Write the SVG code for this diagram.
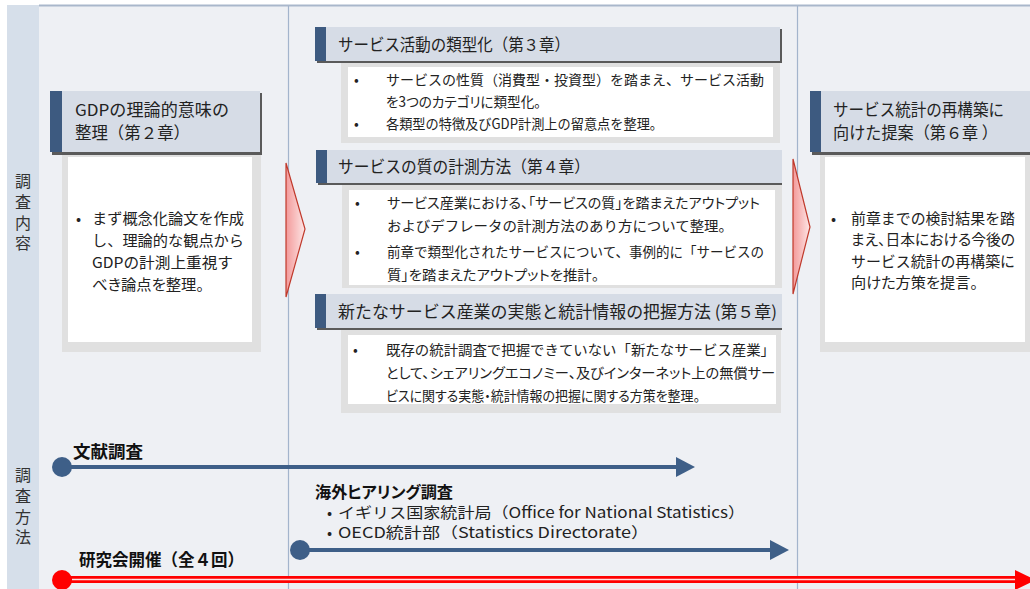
<svg xmlns="http://www.w3.org/2000/svg" width="1030" height="589" viewBox="0 0 1030 589">
<style>
text{font-family:"Noto Sans CJK JP","Noto Sans",sans-serif;fill:#222;}
.p{font-feature-settings:"palt"}
.hd{fill:#D6DCE6}
.bar{fill:#3D5A80}
.sh{fill:#5A5A5A}
.bg{fill:#E0E0E0}
.wh{fill:#FFFFFF}
.ht{font-size:16.5px}
.bt{font-size:14px}
.lt{font-size:15px}
.lab{font-size:16px;fill:#333;writing-mode:vertical-rl;letter-spacing:4.8px}
.bold{font-weight:bold;font-size:16px;fill:#111}
.vl{stroke:#A3B4CC;stroke-width:1.2}
.blue{stroke:#3E5F88;stroke-width:4;fill:none}
.pk{fill:url(#pg);stroke:#C0392B;stroke-width:1.2}
</style>
<defs>
<linearGradient id="pg" x1="0" y1="0" x2="1" y2="0">
<stop offset="0" stop-color="#F39A9A"/>
<stop offset="1" stop-color="#FDE6E6"/>
</linearGradient>
</defs>
<rect x="0" y="0" width="1030" height="589" fill="#FFFFFF"/>
<rect x="7" y="5" width="1023" height="584" fill="#EEF0F4"/>
<rect x="7" y="5" width="32" height="584" fill="#D6DFEA"/>
<line x1="39" y1="5.5" x2="1030" y2="5.5" stroke="#A9B7CB" stroke-width="2"/>
<line class="vl" x1="288.5" y1="6" x2="288.5" y2="589"/>
<line class="vl" x1="797.5" y1="6" x2="797.5" y2="589"/>

<g id="label-content">
<text class="lab" x="23" y="173">調査内容</text>
</g>
<g id="label-method">
<text class="lab" x="23" y="467">調査方法</text>
</g>

<g id="node-ch2">
<rect class="bg" x="62" y="153" width="199" height="199"/>
<rect class="wh" x="68" y="157" width="184" height="185"/>
<rect class="sh" x="52" y="93" width="210" height="62"/>
<rect class="hd" x="50" y="91" width="210" height="61"/>
<rect class="bar" x="50" y="91" width="12" height="61"/>
<text class="ht" x="75" y="116" textLength="154" lengthAdjust="spacingAndGlyphs">GDPの理論的意味の</text>
<text class="ht" x="75" y="139" textLength="115" lengthAdjust="spacingAndGlyphs">整理（第２章）</text>
<text class="lt" x="76" y="224">•</text>
<text class="lt" x="92" y="224" textLength="152" lengthAdjust="spacingAndGlyphs">まず概念化論文を作成</text>
<text class="lt" x="92" y="246" textLength="152" lengthAdjust="spacingAndGlyphs">し、理論的な観点から</text>
<text class="lt" x="92" y="268" textLength="141" lengthAdjust="spacingAndGlyphs">GDPの計測上重視す</text>
<text class="lt p" x="92" y="290" textLength="112" lengthAdjust="spacingAndGlyphs">べき論点を整理。</text>
</g>

<g id="node-ch3">
<rect class="bg" x="341" y="62" width="439" height="81"/>
<rect class="wh" x="348" y="67" width="425" height="70"/>
<rect class="sh" x="317" y="29" width="465" height="34"/>
<rect class="hd" x="315" y="27" width="465" height="34"/>
<rect class="bar" x="315" y="27" width="11" height="34"/>
<text class="ht" x="338" y="51" textLength="232" lengthAdjust="spacingAndGlyphs">サービス活動の類型化（第３章）</text>
<text class="bt" x="354" y="85">•</text>
<text class="bt" x="386" y="85" textLength="378" lengthAdjust="spacingAndGlyphs">サービスの性質（消費型・投資型）を踏まえ、サービス活動</text>
<text class="bt p" x="386" y="107" textLength="155" lengthAdjust="spacingAndGlyphs">を3つのカテゴリに類型化。</text>
<text class="bt" x="354" y="129">•</text>
<text class="bt" x="386" y="129" textLength="277" lengthAdjust="spacingAndGlyphs">各類型の特徴及びGDP計測上の留意点を整理。</text>
</g>

<g id="node-ch4">
<rect class="bg" x="342" y="183" width="440" height="105"/>
<rect class="wh" x="349" y="190" width="426" height="95"/>
<rect class="sh" x="318" y="152" width="464" height="33"/>
<rect class="hd" x="316" y="150" width="466" height="33"/>
<rect class="bar" x="316" y="150" width="11" height="33"/>
<text class="ht" x="338" y="173" textLength="252" lengthAdjust="spacingAndGlyphs">サービスの質の計測方法（第４章）</text>
<text class="bt" x="355" y="208">•</text>
<text class="bt p" x="387" y="208" textLength="373" lengthAdjust="spacingAndGlyphs">サービス産業における、「サービスの質」を踏まえたアウトプット</text>
<text class="bt" x="387" y="231" textLength="346" lengthAdjust="spacingAndGlyphs">およびデフレータの計測方法のあり方について整理。</text>
<text class="bt" x="355" y="257">•</text>
<text class="bt" x="387" y="257" textLength="377" lengthAdjust="spacingAndGlyphs">前章で類型化されたサービスについて、事例的に「サービスの</text>
<text class="bt p" x="387" y="280" textLength="212" lengthAdjust="spacingAndGlyphs">質」を踏まえたアウトプットを推計。</text>
</g>

<g id="node-ch5">
<rect class="bg" x="341" y="328" width="440" height="85"/>
<rect class="wh" x="348" y="335" width="428" height="69"/>
<rect class="sh" x="317" y="296" width="465" height="34"/>
<rect class="hd" x="315" y="294" width="467" height="34"/>
<rect class="bar" x="315" y="294" width="11" height="34"/>
<text class="ht" x="338" y="318" textLength="439" lengthAdjust="spacingAndGlyphs">新たなサービス産業の実態と統計情報の把握方法 (第５章)</text>
<text class="bt" x="353" y="355">•</text>
<text class="bt" x="386" y="355" textLength="389" lengthAdjust="spacingAndGlyphs">既存の統計調査で把握できていない「新たなサービス産業」</text>
<text class="bt p" x="386" y="378" textLength="389" lengthAdjust="spacingAndGlyphs">として、シェアリングエコノミー、及びインターネット上の無償サー</text>
<text class="bt p" x="386" y="401" textLength="314" lengthAdjust="spacingAndGlyphs">ビスに関する実態・統計情報の把握に関する方策を整理。</text>
</g>

<g id="node-ch6">
<rect class="bg" x="820" y="153" width="210" height="199"/>
<rect class="wh" x="825" y="157" width="200" height="185"/>
<rect class="sh" x="812" y="93" width="218" height="62"/>
<rect class="hd" x="810" y="91" width="220" height="61"/>
<rect class="bar" x="810" y="91" width="11" height="61"/>
<text class="ht" x="833" y="116" textLength="171" lengthAdjust="spacingAndGlyphs">サービス統計の再構築に</text>
<text class="ht" x="833" y="139" textLength="165" lengthAdjust="spacingAndGlyphs">向けた提案（第６章 ）</text>
<text class="lt" x="831" y="224">•</text>
<text class="lt" x="851" y="224" textLength="164" lengthAdjust="spacingAndGlyphs">前章までの検討結果を踏</text>
<text class="lt p" x="851" y="245" textLength="164" lengthAdjust="spacingAndGlyphs">まえ、日本における今後の</text>
<text class="lt" x="851" y="267" textLength="164" lengthAdjust="spacingAndGlyphs">サービス統計の再構築に</text>
<text class="lt p" x="851" y="288" textLength="127" lengthAdjust="spacingAndGlyphs">向けた方策を提言。</text>
</g>

<g id="connectors">
<polygon class="pk" points="286,163 305,229 286,297"/>
<polygon class="pk" points="793,159 810,227 793,294"/>
<line class="blue" x1="62" y1="467" x2="678" y2="467"/>
<polygon points="676,457 695,467 676,477" fill="#3E5F88"/>
<circle cx="62" cy="467" r="10" fill="#3E5F88"/>
<line class="blue" x1="300" y1="550" x2="772" y2="550"/>
<polygon points="770,540 789,550 770,560" fill="#3E5F88"/>
<circle cx="300" cy="550" r="10" fill="#3E5F88"/>
<line x1="62" y1="579.5" x2="1018" y2="579.5" stroke="#FF0000" stroke-width="7"/>
<line x1="72" y1="579.5" x2="1018" y2="579.5" stroke="#FFE0E0" stroke-width="1.5"/>
<polygon points="1015,570 1036,580 1015,590" fill="#FF0000"/>
<circle cx="62" cy="580" r="10" fill="#FF0000"/>
</g>

<g id="method-labels">
<text class="bold" x="73" y="458" style="font-size:17px" textLength="70" lengthAdjust="spacingAndGlyphs">文献調査</text>
<text class="bold p" x="315" y="498" textLength="138" lengthAdjust="spacingAndGlyphs">海外ヒアリング調査</text>
<text class="lt" x="327" y="518">•</text>
<text class="lt" x="338" y="518" textLength="407" lengthAdjust="spacingAndGlyphs">イギリス国家統計局（Office for National Statistics）</text>
<text class="lt" x="327" y="538">•</text>
<text class="lt" x="338" y="538" textLength="311" lengthAdjust="spacingAndGlyphs">OECD統計部（Statistics Directorate）</text>
<text class="bold" x="79" y="566" style="font-size:17px" textLength="165" lengthAdjust="spacingAndGlyphs">研究会開催（全４回）</text>
</g>
</svg>
